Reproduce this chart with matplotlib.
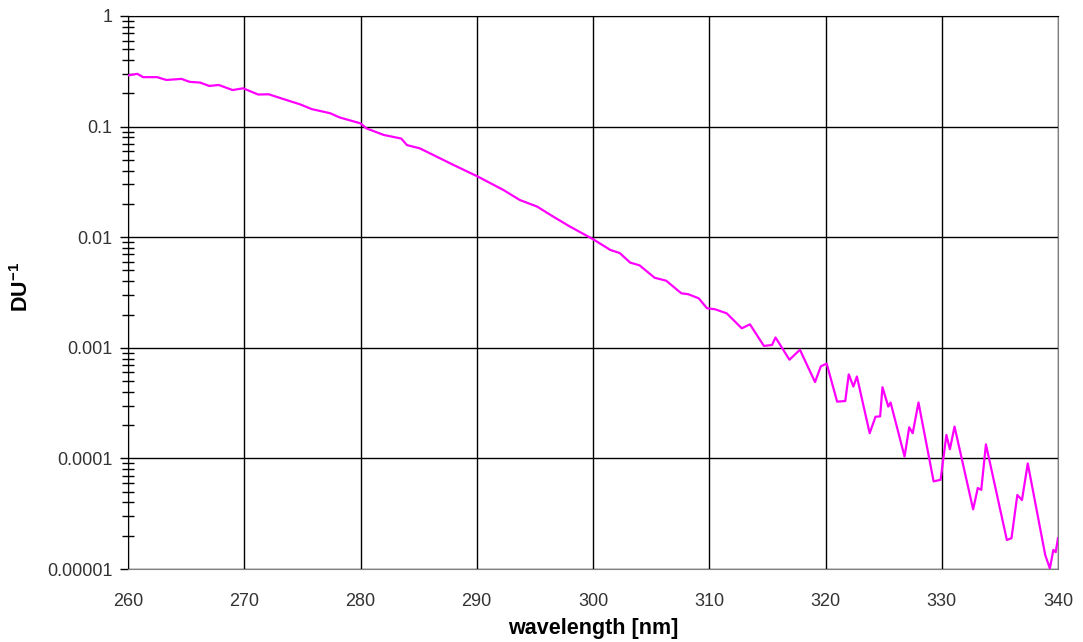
import matplotlib
matplotlib.use("Agg")
import matplotlib.pyplot as plt
from matplotlib.ticker import FixedLocator, NullFormatter

plt.rcParams['font.family'] = ['Liberation Sans', 'DejaVu Sans']
plt.rcParams['mathtext.fontset'] = 'custom'
plt.rcParams['mathtext.rm'] = 'Liberation Sans:bold'
plt.rcParams['mathtext.default'] = 'rm'

wavelength = [260.0, 260.8, 261.3, 262.5, 263.3, 264.6, 265.3, 266.2, 267.0, 267.8,
              269.0, 269.9, 271.2, 272.1, 273.4, 274.8, 275.8, 277.4, 278.2, 280.0,
              280.5, 282.0, 283.5, 284.0, 285.1, 288.0, 290.1, 292.3, 293.7, 295.2,
              296.6, 298.0, 300.0, 301.5, 302.3, 303.2, 304.0, 305.3, 306.3, 307.6,
              308.2, 309.1, 309.8, 310.5, 311.5, 312.8, 313.5, 314.7, 315.4, 315.7,
              316.9, 317.8, 319.1, 319.6, 320.1, 321.0, 321.7, 322.0, 322.4, 322.7,
              323.8, 324.3, 324.7, 324.9, 325.4, 325.6, 326.8, 327.2, 327.5, 328.0,
              329.3, 329.9, 330.4, 330.7, 331.1, 332.7, 333.1, 333.4, 333.8, 335.6,
              336.0, 336.5, 336.9, 337.4, 338.9, 339.3, 339.6, 339.8, 340.0]
sensitivity = [0.29, 0.30, 0.28, 0.28, 0.264, 0.27, 0.254, 0.25, 0.233, 0.238,
               0.214, 0.222, 0.195, 0.196, 0.177, 0.159, 0.144, 0.132, 0.121, 0.107,
               0.0965, 0.084, 0.078, 0.068, 0.0636, 0.045, 0.0353, 0.0267, 0.0217, 0.0189,
               0.0153, 0.0125, 0.0096, 0.00766, 0.00719, 0.00589, 0.00557, 0.0043, 0.00404, 0.00311,
               0.00305, 0.0028, 0.00228, 0.00223, 0.00205, 0.0015, 0.00163, 0.00104, 0.00106, 0.00124,
               0.00078, 0.00096, 0.00049, 0.00068, 0.00072, 0.000326, 0.00033, 0.000575, 0.000446, 0.00055,
               0.000169, 0.000238, 0.00024, 0.00044, 0.000294, 0.00032, 0.000104, 0.000191, 0.000169, 0.00032,
               6.2e-5, 6.4e-5, 0.000163, 0.000121, 0.000194, 3.46e-5, 5.4e-5, 5.2e-5, 0.000134, 1.83e-5,
               1.9e-5, 4.67e-5, 4.2e-5, 9.0e-5, 1.34e-5, 1.01e-5, 1.49e-5, 1.42e-5, 1.9e-5]

x_ticks = [260, 270, 280, 290, 300, 310, 320, 330, 340]
y_ticks = [1e-5, 1e-4, 1e-3, 1e-2, 1e-1, 1]
y_tick_labels = ['0.00001', '0.0001', '0.001', '0.01', '0.1', '1']

W, H = 1083, 642
fig = plt.figure(figsize=(W / 100, H / 100), dpi=100)
ax = fig.add_axes([128 / W, 1 - 569 / H, 930 / W, 553 / H])

ax.plot(wavelength, sensitivity, color='#FF00FF', lw=1.6, zorder=3)
ax.set_yscale('log')
ax.set_xlim(260, 340)
ax.set_ylim(1e-5, 1)

ax.set_xticks(x_ticks)
ax.set_xticklabels([str(t) for t in x_ticks])
ax.set_yticks(y_ticks)
ax.set_yticklabels(y_tick_labels)
minors = [m * 10.0 ** e for e in range(-5, 0) for m in range(2, 10)]
ax.yaxis.set_minor_locator(FixedLocator(minors))
ax.yaxis.set_minor_formatter(NullFormatter())

ax.grid(True, which='major', color='black', lw=1.0, zorder=1)
ax.tick_params(axis='y', which='major', direction='out', length=6, width=1,
               color='black', labelsize=13, labelcolor='#333333', pad=5)
ax.tick_params(axis='y', which='minor', direction='inout', length=9, width=1,
               color='black')
ax.tick_params(axis='x', which='major', length=0, labelsize=13,
               labelcolor='#333333', pad=17)

for s in ['bottom', 'right']:
    ax.spines[s].set_color('#808080')
ax.spines['top'].set_color('black')
ax.spines['left'].set_color('black')

ax.set_xlabel('wavelength [nm]', fontsize=15.5, fontweight='bold')
ax.set_ylabel(r'DU$^{-1}$', fontsize=15.5, fontweight='bold')
ax.xaxis.set_label_coords(0.5, -0.088)
ax.yaxis.set_label_coords(-0.102, 0.51)

fig.savefig('out.png', dpi=100)
